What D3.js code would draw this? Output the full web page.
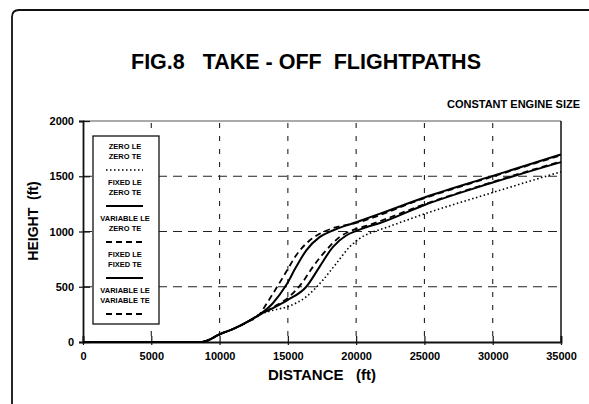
<!DOCTYPE html>
<html>
<head>
<meta charset="utf-8">
<script src="https://cdn.jsdelivr.net/npm/d3@7"></script>
<style>
  body { margin: 0; background: #fff; }
  svg text { font-family: "Liberation Sans", Arial, sans-serif; font-weight: bold; fill: #000; }
</style>
</head>
<body>
<svg id="chart" width="589" height="404"></svg>
<script>
// axis ticks
const xTicks = [0, 5000, 10000, 15000, 20000, 25000, 30000, 35000];
const yTicks = [0, 500, 1000, 1500, 2000];

// flight paths: [distance ft, height ft]
const zeroLeZeroTe = [[0,0],[8500,0],[9000,8],[10000,70],[11000,118],[12000,180],[12900,246],
  [14000,290],[15000,320],[16350,410],[17560,560],[18540,710],[19510,859],[20220,934],
  [21190,994],[21700,1015],[25000,1159],[30000,1353],[35000,1541]];
const fixedLeZeroTe = [[0,0],[8500,0],[9000,8],[10000,70],[11000,118],[12000,180],[12900,246],
  [13900,306],[15000,381],[16350,500],[17320,680],[18290,859],[19270,964],[20000,1005],
  [20730,1039],[21700,1075],[25000,1240],[30000,1443],[35000,1628]];
const variableLeZeroTe = [[0,0],[8500,0],[9000,8],[10000,70],[11000,118],[12000,180],[12900,246],
  [14000,320],[15200,420],[16100,545],[16830,680],[17800,830],[18780,949],[19700,1010],
  [20730,1050],[25000,1246],[30000,1449],[35000,1634]];
const fixedLeFixedTe = [[0,0],[8500,0],[9000,8],[10000,70],[11000,118],[12000,180],[12900,246],
  [13900,351],[14880,515],[15610,680],[16350,830],[17320,949],[18290,1009],[20000,1084],
  [21700,1159],[25000,1308],[30000,1503],[35000,1697]];
const variableLeVariableTe = [[0,0],[8500,0],[9000,8],[10000,70],[11000,118],[12000,180],[12900,246],
  [13300,320],[14150,486],[14880,635],[15610,785],[16590,919],[17560,994],[18300,1030],
  [20000,1078],[25000,1302],[30000,1497],[35000,1691]];

const series = [
  { name: ["ZERO LE", "ZERO TE"], data: zeroLeZeroTe, dash: "1.5,2.5", width: 1.6 },
  { name: ["FIXED LE", "ZERO TE"], data: fixedLeZeroTe, dash: null, width: 2 },
  { name: ["VARIABLE LE", "ZERO TE"], data: variableLeZeroTe, dash: "6,4", width: 1.8 },
  { name: ["FIXED LE", "FIXED TE"], data: fixedLeFixedTe, dash: null, width: 2 },
  { name: ["VARIABLE LE", "VARIABLE TE"], data: variableLeVariableTe, dash: "6,4", width: 1.8 }
];

const svg = d3.select("#chart");
const pLeft = 83, pRight = 561, pTop = 121, pBottom = 342;

const x = d3.scaleLinear().domain([0, 35000]).range([pLeft, pRight]);
const y = d3.scaleLinear().domain([0, 2000]).range([pBottom, pTop]);

// outer frame with the rounded corner, runs off right and bottom
svg.append("path")
  .attr("d", "M12,404 L12,17 Q12,10 19,10 L589,10")
  .attr("fill", "none").attr("stroke", "#111").attr("stroke-width", 1.8);

svg.append("text").attr("x", 306).attr("y", 69).attr("text-anchor", "middle")
  .attr("font-size", 21.5).attr("xml:space", "preserve")
  .text("FIG.8   TAKE - OFF  FLIGHTPATHS");

svg.append("text").attr("x", 580).attr("y", 108).attr("text-anchor", "end")
  .attr("font-size", 11).text("CONSTANT ENGINE SIZE");

// grid
svg.append("g").selectAll("line").data(xTicks.slice(1, -1)).enter().append("line")
  .attr("x1", d => x(d)).attr("x2", d => x(d)).attr("y1", pTop + 2).attr("y2", pBottom)
  .attr("stroke", "#222").attr("stroke-width", 1.1).attr("stroke-dasharray", "5,8");
svg.append("g").selectAll("line").data(yTicks.slice(1, -1)).enter().append("line")
  .attr("x1", pLeft).attr("x2", pRight).attr("y1", d => y(d)).attr("y2", d => y(d))
  .attr("stroke", "#222").attr("stroke-width", 1.1).attr("stroke-dasharray", "9,6");

// plot frame
svg.append("line").attr("x1", pLeft).attr("x2", pRight).attr("y1", pTop).attr("y2", pTop)
  .attr("stroke", "#555").attr("stroke-width", 1);
svg.append("line").attr("x1", pRight).attr("x2", pRight).attr("y1", pTop).attr("y2", pBottom)
  .attr("stroke", "#111").attr("stroke-width", 1.5);

// axes
const xAxis = svg.append("g").attr("transform", `translate(0,${pBottom})`)
  .call(d3.axisBottom(x).tickValues(xTicks).tickSize(-6).tickPadding(10).tickFormat(d3.format("d")));
xAxis.selectAll(".tick line").clone().attr("y2", 3);
const yAxis = svg.append("g").attr("transform", `translate(${pLeft},0)`)
  .call(d3.axisLeft(y).tickValues(yTicks).tickSize(4).tickPadding(5).tickFormat(d3.format("d")));
yAxis.selectAll(".tick line").clone().attr("x2", 7);
[xAxis, yAxis].forEach(g => {
  g.select(".domain").attr("stroke", "#111").attr("stroke-width", 1.8);
  g.selectAll(".tick line").attr("stroke", "#111").attr("stroke-width", 1.2);
  g.selectAll(".tick text").attr("font-size", 11)
    .style("font-family", "'Liberation Sans', Arial, sans-serif").style("font-weight", "bold");
});

svg.append("text").attr("x", 322).attr("y", 380).attr("text-anchor", "middle")
  .attr("font-size", 15).attr("xml:space", "preserve").text("DISTANCE   (ft)");
svg.append("text").attr("transform", "translate(38,221) rotate(-90)").attr("text-anchor", "middle")
  .attr("font-size", 14).attr("xml:space", "preserve").text("HEIGHT  (ft)");

// curves
const line = d3.line().x(d => x(d[0])).y(d => y(d[1])).curve(d3.curveMonotoneX);
svg.append("g").selectAll("path").data(series).enter().append("path")
  .attr("d", d => line(d.data))
  .attr("fill", "none").attr("stroke", "#000")
  .attr("stroke-width", d => d.width)
  .attr("stroke-dasharray", d => d.dash);

// legend
const lg = svg.append("g");
lg.append("rect").attr("x", 93).attr("y", 136).attr("width", 66).attr("height", 188)
  .attr("fill", "#fff").attr("stroke", "#111").attr("stroke-width", 1.3);
const entry = lg.selectAll("g.entry").data(series).enter().append("g")
  .attr("transform", (d, i) => `translate(0,${170 + i * 36})`);
entry.append("text").attr("x", 125).attr("y", -21).attr("text-anchor", "middle")
  .attr("font-size", 7.5).text(d => d.name[0]);
entry.append("text").attr("x", 125).attr("y", -11).attr("text-anchor", "middle")
  .attr("font-size", 7.5).text(d => d.name[1]);
entry.append("line").attr("x1", 106).attr("x2", 143).attr("y1", 0).attr("y2", 0)
  .attr("stroke", "#000").attr("stroke-width", d => d.width)
  .attr("stroke-dasharray", d => d.dash);
</script>
</body>
</html>
